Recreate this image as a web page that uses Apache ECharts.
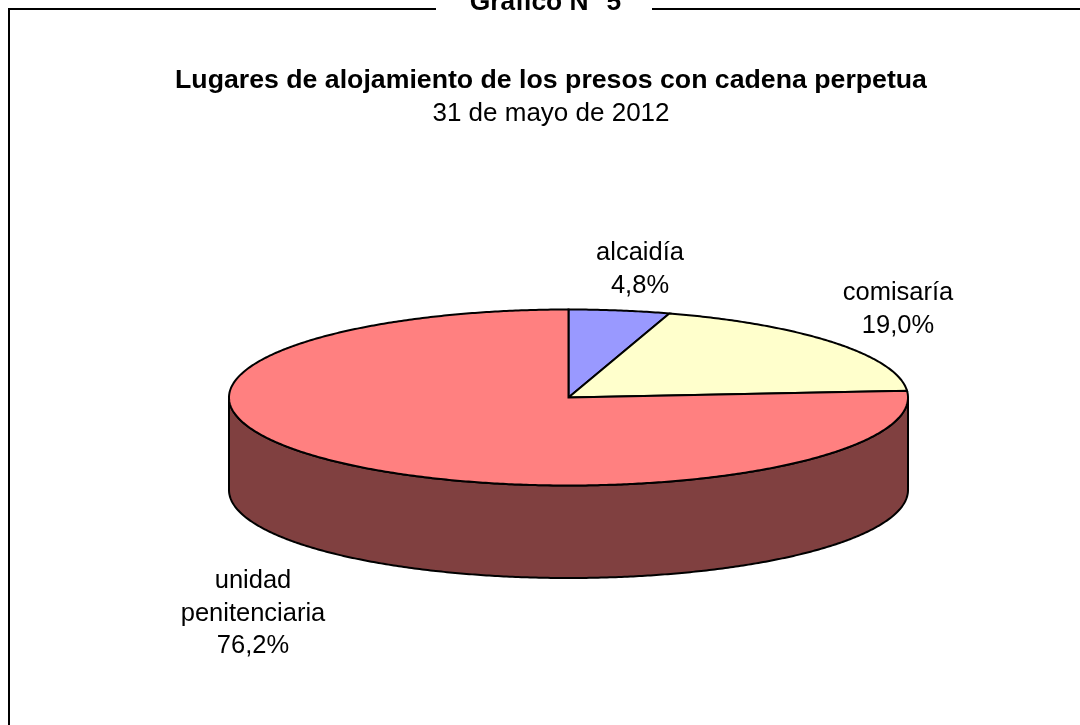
<!DOCTYPE html>
<html>
<head>
<meta charset="utf-8">
<title>Gráfico N° 5</title>
<script src="https://cdn.jsdelivr.net/npm/echarts@6/dist/echarts.min.js"></script>
<style>
  html, body { margin: 0; padding: 0; background: #fff; }
  #chart { width: 1080px; height: 725px; }
</style>
</head>
<body>
<div id="chart"></div>
<script>
// datos
const categories = ['alcaidía', 'comisaría', 'unidad penitenciaria']
const values = [4.8, 19.0, 76.2]
const labelLines = [['alcaidía'], ['comisaría'], ['unidad', 'penitenciaria']]

// estilos y layout
const colors = ['#9999FF', '#FFFFCC', '#FF8080']
const wallColors = ['#4D4D80', '#808066', '#804040']
const labelAnchors = [[640, 237], [898, 277], [253, 565]]
const FONT = '"Liberation Sans", Arial, sans-serif'
const cx = 568.5, cy = 397.5, rx = 339.5, ry = 88, depth = 92.5

const total = values.reduce((a, b) => a + b, 0)
const ellipsePoint = (deg, dy = 0) => {
  const t = deg * Math.PI / 180
  return [cx + rx * Math.sin(t), cy - ry * Math.cos(t) + dy]
}
const arcPoints = (from, to, dy = 0) => {
  const pts = []
  const steps = Math.max(2, Math.ceil((to - from) * 2))
  for (let i = 0; i <= steps; i++) pts.push(ellipsePoint(from + (to - from) * i / steps, dy))
  return pts
}

const renderSlice = (params, api) => {
  const i = params.dataIndex
  const before = values.slice(0, i).reduce((a, b) => a + b, 0)
  const start = before / total * 360
  const end = start + api.value(0) / total * 360
  const children = []

  // pared lateral, solo la mitad delantera se ve
  const wallFrom = Math.max(start, 90)
  const wallTo = Math.min(end, 270)
  if (wallTo > wallFrom) {
    children.push({
      type: 'polygon',
      z2: 1,
      shape: { points: arcPoints(wallFrom, wallTo).concat(arcPoints(wallFrom, wallTo, depth).reverse()) },
      style: { fill: wallColors[i], stroke: '#000', lineWidth: 2 }
    })
  }
  // cara superior
  children.push({
    type: 'polygon',
    z2: 2,
    shape: { points: [[cx, cy]].concat(arcPoints(start, end)) },
    style: { fill: colors[i], stroke: '#000', lineWidth: 2 }
  })
  // etiqueta
  const pct = api.value(0).toFixed(1).replace('.', ',') + '%'
  children.push({
    type: 'text',
    z2: 3,
    x: labelAnchors[i][0],
    y: labelAnchors[i][1],
    style: {
      text: labelLines[i].concat(pct).join('\n'),
      fill: '#000',
      font: '25.5px ' + FONT,
      lineHeight: 32.5,
      align: 'center',
      verticalAlign: 'top'
    }
  })
  return { type: 'group', children }
}

const chart = echarts.init(document.getElementById('chart'), null, { renderer: 'canvas' })
chart.setOption({
  animation: false,
  backgroundColor: '#fff',
  title: {
    text: 'Lugares de alojamiento de los presos con cadena perpetua',
    subtext: '31 de mayo de 2012',
    left: 546,
    top: 62,
    textAlign: 'center',
    itemGap: 7,
    textStyle: { fontFamily: FONT, fontSize: 26.7, fontWeight: 'bold', color: '#000' },
    subtextStyle: { fontFamily: FONT, fontSize: 26, color: '#000' }
  },
  graphic: [
    { type: 'line', shape: { x1: 9, y1: 9, x2: 9, y2: 725 }, style: { stroke: '#000', lineWidth: 2 } },
    { type: 'line', shape: { x1: 8, y1: 9, x2: 436, y2: 9 }, style: { stroke: '#000', lineWidth: 2 } },
    { type: 'line', shape: { x1: 652, y1: 9, x2: 1080, y2: 9 }, style: { stroke: '#000', lineWidth: 2 } },
    {
      type: 'text',
      x: 545.5,
      y: 16,
      style: {
        text: 'Gráfico N° 5',
        fill: '#000',
        font: 'bold 26.4px ' + FONT,
        align: 'center',
        verticalAlign: 'bottom'
      }
    }
  ],
  series: [{
    type: 'custom',
    coordinateSystem: 'none',
    renderItem: renderSlice,
    data: categories.map((name, i) => ({ name, value: values[i] }))
  }]
})
</script>
</body>
</html>
